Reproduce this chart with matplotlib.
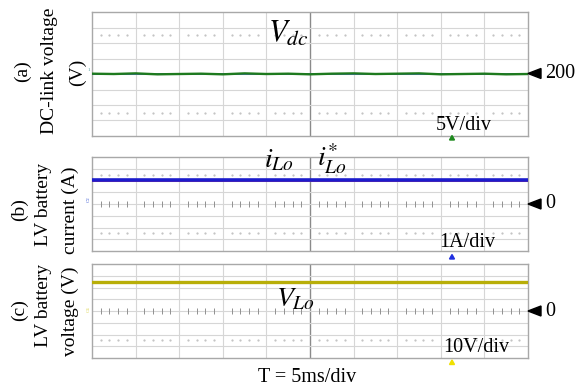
import numpy as np
import matplotlib
matplotlib.use("Agg")
import matplotlib.pyplot as plt
from matplotlib.patches import Polygon

plt.rcParams['font.family'] = ['Liberation Serif', 'DejaVu Serif']
plt.rcParams['mathtext.fontset'] = 'stix'

W, H = 577, 389

# ---------------- data ----------------
# time axis: 10 divisions x 5 ms
t_ms = [0, 2.5, 5, 7.5, 10, 12.5, 15, 17.5, 20, 22.5, 25, 27.5, 30, 32.5, 35,
        37.5, 40, 42.5, 45, 47.5, 50]
# (a) DC-link voltage, 5 V/div, centred at 200 V
vdc_meas = [200.1, 200.0, 200.2, 199.9, 200.0, 200.1, 199.9, 200.2, 200.0, 200.1,
            199.9, 200.1, 200.2, 200.0, 200.1, 200.2, 199.9, 200.0, 200.1, 199.9, 200.0]
vdc_ref = [199.9] * len(t_ms)
vdc_center, vdc_div = 200.0, 5.0
# (b) LV battery current, 1 A/div
ilo_meas = [2.0] * len(t_ms)
ilo_ref = [1.95] * len(t_ms)
ilo_center, ilo_div = 0.0, 1.0
# (c) LV battery voltage, 10 V/div
vlo_meas = [24.4] * len(t_ms)
vlo_center, vlo_div = 0.0, 10.0

labels_right = ["200", "0", "0"]
scale_texts = ["5V/div", "1A/div", "10V/div"]

# ---------------- figure ----------------
fig = plt.figure(figsize=(W / 100, H / 100), dpi=100)
fig.patch.set_facecolor('white')


def fx(x):
    return x / W


def fy(y):
    return 1 - y / H


def make_ax(top, bottom, left=92, right=528):
    ax = fig.add_axes([fx(left), fy(bottom), (right - left) / W, (bottom - top) / H])
    ax.set_xlim(0, 50)
    ax.set_ylim(-4, 4)
    ax.set_xticks([])
    ax.set_yticks([])
    for s in ax.spines.values():
        s.set_color('#a8a8a8')
        s.set_linewidth(1.0)
    grid_c = '#d6d6d6'
    for i in range(1, 10):
        ax.axvline(i * 5, color='#8a8a8a' if i == 5 else grid_c,
                   lw=1.0 if i == 5 else 0.8, zorder=1)
    for j in range(-3, 4):
        ax.axhline(j, color=grid_c, lw=0.8, zorder=1)
    # dotted rows at +-2.5 div
    xd = [i * 5 + k for i in range(10) for k in (1, 2, 3, 4)]
    for yy in (2.5, -2.5):
        ax.plot(xd, [yy] * len(xd), ls='none', marker='s', ms=0.6,
                color='#c4c4c4', zorder=1)
    return ax, xd


# panel (a)
axa, xd = make_ax(12, 136)
ya = [(v - vdc_center) / vdc_div for v in vdc_ref]
ym = [(v - vdc_center) / vdc_div for v in vdc_meas]
axa.plot(t_ms, ya, color='#3a5ad8', lw=1.2, zorder=3)
axa.plot(t_ms, ym, color='#1e7a1e', lw=1.7, zorder=4)

# panel (b)
axb, xd = make_ax(157, 251)
axb.plot(xd, [0] * len(xd), ls='none', marker='|', ms=4, mew=0.7,
         color='#909090', zorder=2)
axb.plot(t_ms, [(v - ilo_center) / ilo_div for v in ilo_ref],
         color='#d8406a', lw=1.4, zorder=3)
axb.plot(t_ms, [(v - ilo_center) / ilo_div + 0.04 for v in ilo_meas],
         color='#1c1ccc', lw=2.6, zorder=4)

# panel (c)
axc, xd = make_ax(264, 358)
axc.plot(xd, [0] * len(xd), ls='none', marker='|', ms=4, mew=0.7,
         color='#909090', zorder=2)
axc.plot(t_ms, [(v - vlo_center) / vlo_div for v in vlo_meas],
         color='#b8ae08', lw=2.4, zorder=4)

# ---------------- right-side reference arrows ----------------
for yc, lab in zip([73.5, 204, 311], labels_right):
    tri = Polygon([[fx(528), fy(yc)], [fx(541), fy(yc - 5)], [fx(541), fy(yc + 5)]],
                  closed=True, transform=fig.transFigure, color='black')
    fig.add_artist(tri)
    fig.text(fx(545), fy(yc), lab, fontsize=14.5, ha='left', va='center')

# small channel-position triangles under the scale labels
for yc, col in zip([138.5, 257.5, 363], ['#1e8a1e', '#2030e0', '#f0e000']):
    tri = Polygon([[fx(452), fy(yc - 3)], [fx(449.5), fy(yc + 1.5)], [fx(454.5), fy(yc + 1.5)]],
                  closed=True, transform=fig.transFigure, color=col)
    fig.add_artist(tri)

# scale labels
fig.text(fx(464), fy(125), scale_texts[0], fontsize=14.5, ha='center', va='center')
fig.text(fx(467), fy(243), scale_texts[1], fontsize=14.5, ha='center', va='center')
fig.text(fx(476), fy(347), scale_texts[2], fontsize=14.5, ha='center', va='center')

# channel markers on the left edge
fig.text(fx(89), fy(70), '1', fontsize=3.5, color='#4a9a9a', ha='center', va='center')
fig.text(fx(89), fy(199), 'C2', fontsize=3.5, color='#3050d0', ha='center', va='center',
         rotation=90)
fig.text(fx(89), fy(309), 'C4', fontsize=3.5, color='#d8d040', ha='center', va='center',
         rotation=90)

# signal names
fig.text(fx(268), fy(42), r'$V_{dc}$', fontsize=22, ha='left', va='baseline')
fig.text(fx(264), fy(167), r'$i_{Lo}$', fontsize=20, ha='left', va='baseline')
fig.text(fx(317), fy(167), r'$i_{Lo}^{*}$', fontsize=20, ha='left', va='baseline')
fig.text(fx(276), fy(306), r'$V_{Lo}$', fontsize=20, ha='left', va='baseline')

# left rotated labels
ylab = 14
fig.text(fx(22), fy(71), '(a)', rotation=90, fontsize=ylab, ha='center', va='center')
fig.text(fx(50), fy(71), 'DC-link voltage', rotation=90, fontsize=ylab, ha='center', va='center')
fig.text(fx(77), fy(72), '(V)', rotation=90, fontsize=ylab, ha='center', va='center')

fig.text(fx(19), fy(210), '(b)', rotation=90, fontsize=ylab, ha='center', va='center')
fig.text(fx(43), fy(204), 'LV battery', rotation=90, fontsize=ylab, ha='center', va='center')
fig.text(fx(70), fy(210), 'current (A)', rotation=90, fontsize=ylab, ha='center', va='center')

fig.text(fx(19), fy(310), '(c)', rotation=90, fontsize=ylab, ha='center', va='center')
fig.text(fx(43), fy(305), 'LV battery', rotation=90, fontsize=ylab, ha='center', va='center')
fig.text(fx(70), fy(311), 'voltage (V)', rotation=90, fontsize=ylab, ha='center', va='center')

# time base
fig.text(fx(307), fy(378), 'T = 5ms/div', fontsize=14.5, ha='center', va='center')

fig.savefig('out.png', dpi=100, facecolor='white')
